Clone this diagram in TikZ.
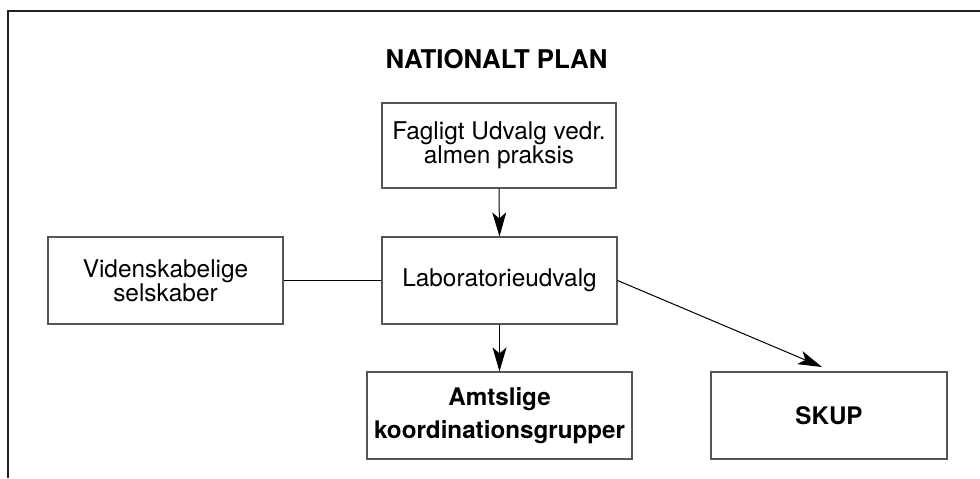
\documentclass[tikz,border=0pt]{standalone}
\usepackage{fontspec}
\setmainfont{TeX Gyre Heros}
\usepackage{tikz}
\usetikzlibrary{arrows.meta,positioning}
\definecolor{framegray}{RGB}{34,34,34}
\definecolor{boxgray}{RGB}{85,85,85}

\begin{document}
\begin{tikzpicture}[x=0.5pt,y=-0.5pt,
    box/.style={draw=boxgray, line width=0.6pt, align=center, inner sep=2pt,
                font=\fontsize{12.2}{12}\selectfont},
    boldbox/.style={box, font=\fontsize{12.1}{16.5}\selectfont\bfseries},
    arr/.style={-{Stealth[length=12pt,width=7pt,inset=3pt]}, line width=0.5pt}]
        \useasboundingbox (0,0) rectangle (980,478);
        % Frame (top and left only)
        \draw[framegray, line width=1pt] (980,10.5) -- (7.5,10.5) -- (7.5,478);
        % Title
        \node[font=\fontsize{12.9}{14}\selectfont\bfseries] (title) at (496.5,59) {NATIONALT PLAN};
        % Boxes
        \node[box, minimum width=117pt, minimum height=42.5pt] (fag) at (499,145.5) {Fagligt Udvalg vedr.\\almen praksis};
        \node[box, minimum width=117.5pt, minimum height=43.5pt] (lab) at (499.5,280.5) {Laboratorieudvalg};
        \node[box, minimum width=117.5pt, minimum height=43.5pt] (vid) at (165.5,280.5) {Videnskabelige\\selskaber};
        \node[boldbox, minimum width=132.5pt, minimum height=43.5pt] (amt) at (499.5,415.5) {Amtslige\\koordinationsgrupper};
        \node[boldbox, minimum width=118pt, minimum height=43.5pt] (skup) at (829,415.5) {SKUP};
        \coordinate (skuptip) at (822,367);
        % Connectors
        \draw[arr] (fag.south) -- (lab.north);
        \draw[arr] (lab.south) -- (amt.north);
        \draw[line width=0.5pt] (vid.east) -- (lab.west);
        \draw[arr] (lab.east) -- (skuptip);
\end{tikzpicture}
\end{document}
